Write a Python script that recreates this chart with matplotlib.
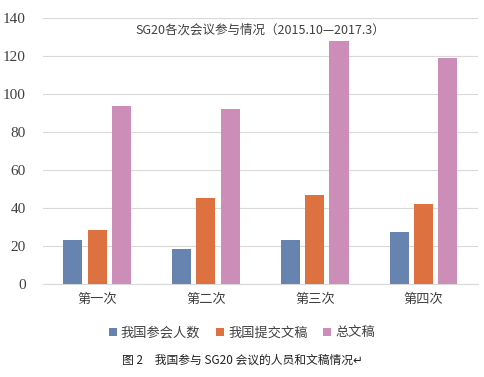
import numpy as np
import matplotlib
matplotlib.use("Agg")
import matplotlib.pyplot as plt

plt.rcParams["font.serif"] = ["Liberation Serif", "DejaVu Serif"]

# data
categories = ["第一次", "第二次", "第三次", "第四次"]
series_names = ["我国参会人数", "我国提交文稿", "总文稿"]
people = [23, 18, 23, 27]
our_docs = [28, 45, 47, 42]
total_docs = [94, 92, 128, 119]
yticks = list(range(0, 141, 20))

BLUE = "#6784B0"; ORANGE = "#DD7240"; PINK = "#CC8DB9"
CJK = ["Noto Sans CJK SC", "DejaVu Sans"]

fig = plt.figure(figsize=(4.84, 3.77), dpi=100)
ax = fig.add_axes([0.088, 0.248, 0.90, 0.703])

x = np.arange(len(categories))
w = 0.175
step = 0.222
for vals, col, name, off in zip([people, our_docs, total_docs],
                                [BLUE, ORANGE, PINK], series_names,
                                [-step, 0, step]):
    ax.bar(x + off, vals, w, color=col, label=name, zorder=3)

ax.set_ylim(0, 140)
ax.set_xlim(-0.5, 3.5)
ax.grid(axis="y", color="#D9D9D9", linewidth=0.8, zorder=0)
for s in ["top", "right", "left"]:
    ax.spines[s].set_visible(False)
ax.spines["bottom"].set_color("#D9D9D9")
ax.tick_params(length=0, colors="#404040")
ax.tick_params(axis="y", pad=12)
ax.tick_params(axis="x", pad=7)
ax.set_xticks(x)
ax.set_xticklabels(categories, family=CJK, fontsize=9.5, color="#404040")
ax.set_yticks(yticks)
ax.set_yticklabels([str(v) for v in yticks], fontfamily="serif",
                   fontsize=11, color="#404040")

ax.text(0.5, 0.955, "SG20各次会议参与情况（2015.10—2017.3）",
        transform=ax.transAxes, ha="center", va="center",
        fontsize=9, family=CJK, color="#404040")

leg = fig.legend(loc="center", bbox_to_anchor=(0.5, 0.117), ncol=3,
                 frameon=False, prop={"family": CJK, "size": 9.5},
                 handlelength=0.6, handleheight=0.6, handletextpad=0.3,
                 columnspacing=1.2)
for t in leg.get_texts():
    t.set_color("#404040")

fig.text(0.5, 0.045, "图 2　我国参与 SG20 会议的人员和文稿情况↵",
         ha="center", va="center", fontsize=8.5, family=CJK, color="#222222")

fig.savefig("out.png", dpi=100)
